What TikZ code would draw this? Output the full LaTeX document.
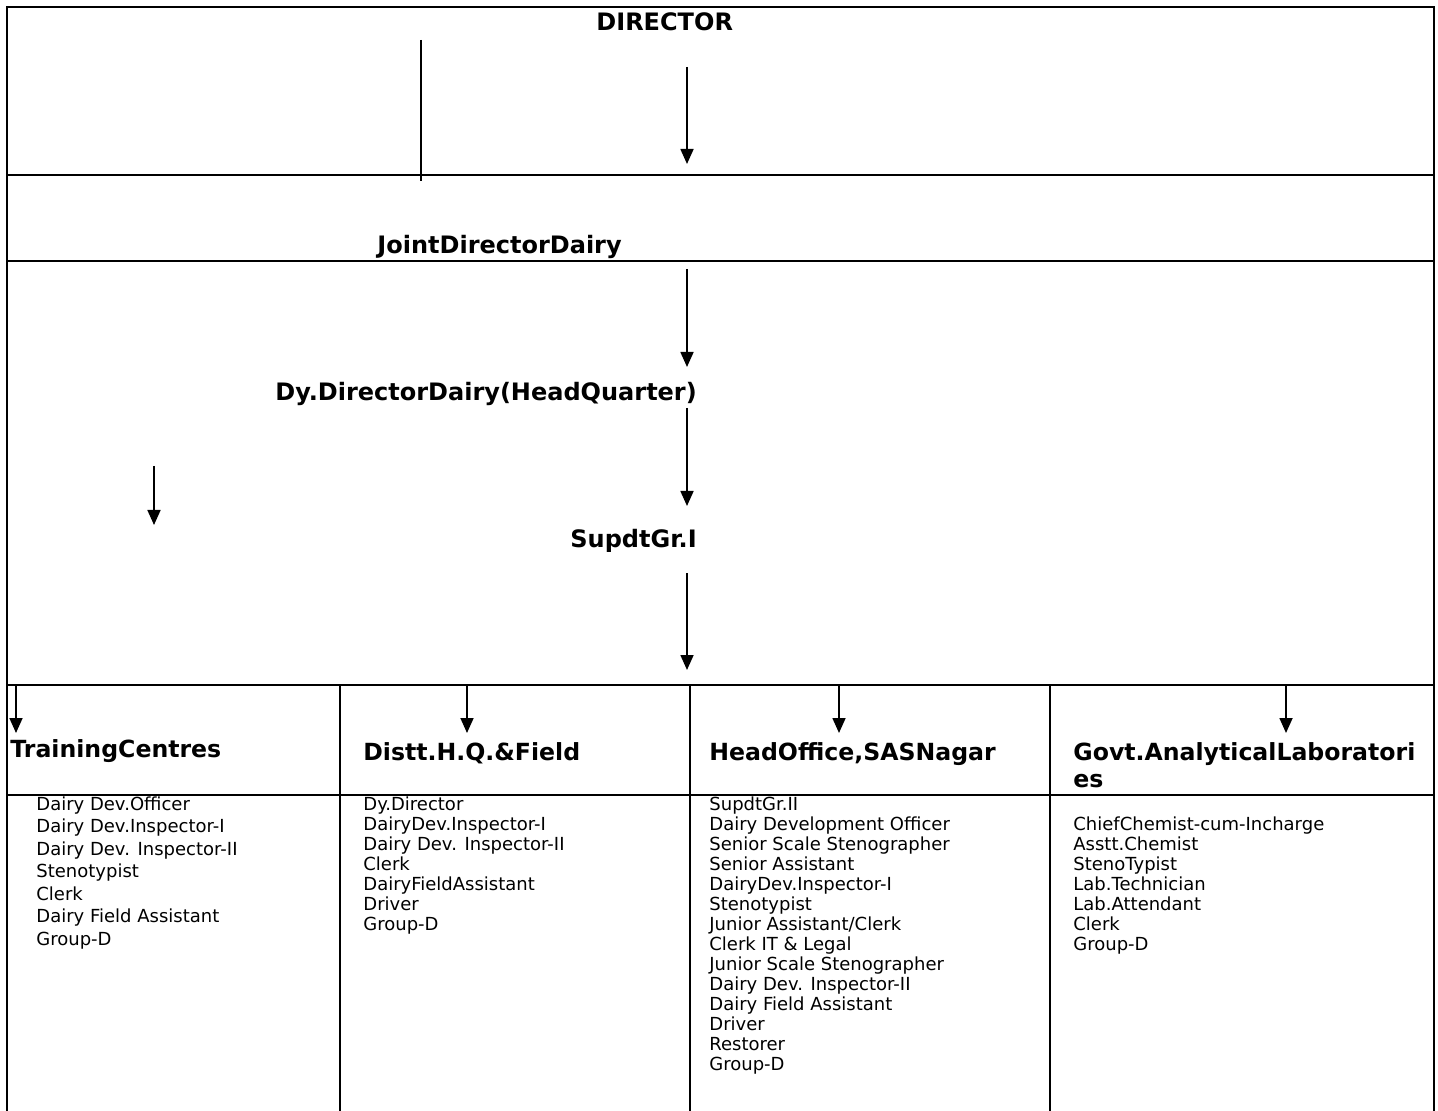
\documentclass[tikz,border=0pt]{standalone}
\usepackage{fontspec}
\setmainfont{DejaVu Sans}
\usetikzlibrary{arrows.meta}

\begin{document}
\begin{tikzpicture}[x=0.5pt,y=-0.5pt,inner sep=0pt,
  frame/.style={line width=1.3pt},
  arr/.style={line width=0.85pt,-{Triangle[width=6.5pt,length=7.5pt]}},
  title/.style={anchor=base west,font=\fontsize{12}{13}\selectfont\bfseries},
  head/.style={anchor=base west,align=left,font=\fontsize{11.8}{13.4}\selectfont\bfseries},
  staff/.style={anchor=base west,align=left,font=\fontsize{9}{10}\selectfont}]

\useasboundingbox (0,0) rectangle (1438,1111);

% frame and rows
\draw[frame] (7,1111) -- (7,7) -- (1434,7) -- (1434,1111);
\draw[frame] (7,175) -- (1434,175);
\draw[frame] (7,261) -- (1434,261);
\draw[frame] (7,685) -- (1434,685);
\draw[frame] (7,795) -- (1434,795);
\draw[frame] (340,685) -- (340,1111);
\draw[frame] (690,685) -- (690,1111);
\draw[frame] (1050,685) -- (1050,1111);

% titles
\node(dir) at (596,31) [title] {DIRECTOR};
\node(jdd) at (377,254) [title] {JointDirectorDairy};
\node(ddd) at (275,401) [title] {Dy.DirectorDairy(HeadQuarter)};
\node(sup) at (570,547) [title] {SupdtGr.I};

% arrows
\coordinate (s1) at (421,40);  \coordinate (e1) at (421,181);
\coordinate (s2) at (687,67);  \coordinate (e2) at (687,164);
\coordinate (s3) at (687,269); \coordinate (e3) at (687,367);
\coordinate (s4) at (687,408); \coordinate (e4) at (687,506);
\coordinate (s5) at (154,466); \coordinate (e5) at (154,525);
\coordinate (s6) at (687,573); \coordinate (e6) at (687,670);
\draw[line width=0.85pt] (s1) -- (e1);
\draw[arr] (s2) -- (e2);
\draw[arr] (s3) -- (e3);
\draw[arr] (s4) -- (e4);
\draw[arr] (s5) -- (e5);
\draw[arr] (s6) -- (e6);

\coordinate (t1) at (16,686);   \coordinate (b1) at (16,733);
\coordinate (t2) at (467,686);  \coordinate (b2) at (467,733);
\coordinate (t3) at (839,686);  \coordinate (b3) at (839,733);
\coordinate (t4) at (1286,686); \coordinate (b4) at (1286,733);
\draw[arr] (t1) -- (b1);
\draw[arr] (t2) -- (b2);
\draw[arr] (t3) -- (b3);
\draw[arr] (t4) -- (b4);

% units (base = last line)
\node(tc) at (10,757) [head] {TrainingCentres};
\node(hq) at (363,760) [head] {Distt.H.Q.\&Field};
\node(ho) at (709,760) [head] {HeadOffice,SASNagar};
\node(gl) at (1073,787) [head] {Govt.AnalyticalLaboratori\\es};

% staff
\node(tcs) at (36,945) [staff,font=\fontsize{9}{11.25}\selectfont] {Dairy Dev.Officer\\Dairy Dev.Inspector-I\\Dairy Dev. Inspector-II\\Stenotypist\\Clerk\\Dairy Field Assistant\\Group-D};
\node(hqs) at (363,930) [staff] {Dy.Director\\DairyDev.Inspector-I\\Dairy Dev. Inspector-II\\Clerk\\DairyFieldAssistant\\Driver\\Group-D};
\node(hos) at (709,1070) [staff] {SupdtGr.II\\Dairy Development Officer\\Senior Scale Stenographer\\Senior Assistant\\DairyDev.Inspector-I\\Stenotypist\\Junior Assistant/Clerk\\Clerk IT \& Legal\\Junior Scale Stenographer\\Dairy Dev. Inspector-II\\Dairy Field Assistant\\Driver\\Restorer\\Group-D};
\node(gls) at (1073,950) [staff] {ChiefChemist-cum-Incharge\\Asstt.Chemist\\StenoTypist\\Lab.Technician\\Lab.Attendant\\Clerk\\Group-D};

\end{tikzpicture}
\end{document}
